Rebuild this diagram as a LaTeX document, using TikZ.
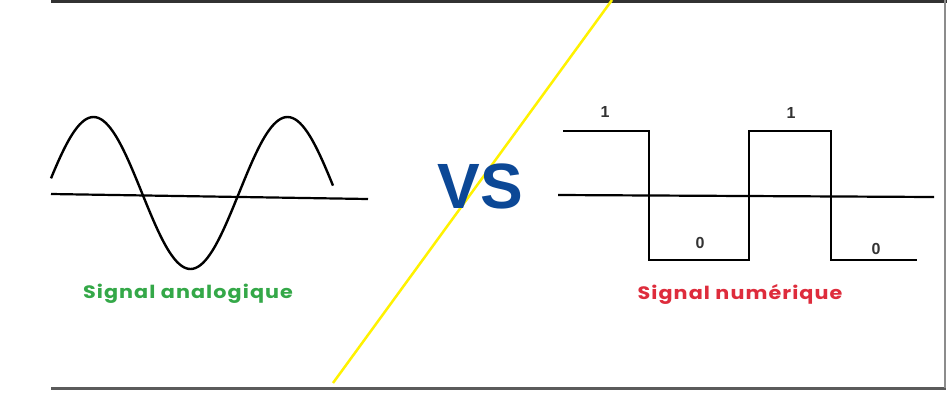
\documentclass[tikz,border=0pt]{standalone}
\usepackage{fontspec}
\setmainfont{Poppins}
\newfontfamily\vsfont{Liberation Sans}
\definecolor{sgreen}{RGB}{52,168,72}
\definecolor{sred}{RGB}{222,44,60}
\definecolor{sblue}{RGB}{12,72,150}
\definecolor{frame}{RGB}{50,50,50}
\begin{document}
\begin{tikzpicture}[x=1pt,y=-1pt,
  wave/.style={line width=2.2pt,black,line join=miter},
  axisline/.style={line width=2.2pt,black},
  bit/.style={font=\vsfont\fontsize{16}{16}\selectfont\bfseries,inner sep=0pt,text=black!80},
  caption/.style={font=\fontsize{18}{18}\selectfont\bfseries\addfontfeature{FakeStretch=1.15,LetterSpace=6},inner sep=0pt}]
\useasboundingbox (0,0) rectangle (947,405);
\fill[white] (0,0) rectangle (947,405);
% frame
\draw[line width=3pt,frame] (51,1.5) -- (947,1.5);
\draw[line width=3pt,frame!80] (51,388.5) -- (946,388.5);
\draw[line width=2pt,black!45] (945,0) -- (945,388);
% analog
\coordinate (aL) at (51,194);
\coordinate (aR) at (368,199);
\draw[axisline] (aL) -- (aR);
\draw[wave,line width=2.4pt,samples=120,domain=51:333,smooth] plot (\x,{193-76*sin((\x-45)/194*360)});
\node[caption,text=sgreen] (lab1) at (188,294) {Signal analogique};
% yellow divider
\coordinate (yB) at (333,383);
\coordinate (yT) at (612,0);
\draw[yellow,line width=2.5pt] (yB) -- (yT);
% VS
\node[font=\vsfont\fontsize{64}{64}\selectfont\bfseries,text=sblue,inner sep=0pt] (vs) at (480,186) {VS};
% digital
\coordinate (dL) at (558,195);
\coordinate (dR) at (934,197);
\draw[axisline] (dL) -- (dR);
\draw[wave] (563,131) -- (649,131) -- (649,260) -- (749,260) -- (749,131) -- (831,131) -- (831,260) -- (917,260);
\node[bit] (b1) at (605,112) {1};
\node[bit] (b2) at (700,243) {0};
\node[bit] (b3) at (791,113) {1};
\node[bit] (b4) at (876,249) {0};
\node[caption,text=sred] (lab2) at (740,294) {Signal numérique};
\end{tikzpicture}
\end{document}
